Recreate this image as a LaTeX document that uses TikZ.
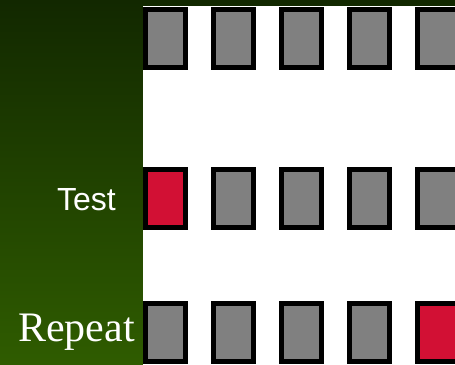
\documentclass[tikz,border=0pt]{standalone}
\usepackage{fontspec}
\setmainfont{Liberation Serif}
\setsansfont{Liberation Sans}
\usetikzlibrary{positioning}

\definecolor{topgreen}{RGB}{18,40,0}
\definecolor{botgreen}{RGB}{47,92,0}
\definecolor{cellgray}{RGB}{128,128,128}
\definecolor{cellred}{RGB}{210,16,52}

\begin{document}
\begin{tikzpicture}[x=1pt, y=1pt,
    cell/.style={rectangle, draw=black, line width=5pt, fill=cellgray, minimum width=40pt, minimum height=58pt, inner sep=0pt},
    hit/.style={cell, fill=cellred},
    lbl/.style={anchor=base east, text=white, inner sep=0pt}]
        \useasboundingbox (0,0) rectangle (455,364);

        % Background panel
        \shade[top color=topgreen, bottom color=botgreen] (0,0) rectangle (455,364);
        \fill[white] (143,-1) rectangle (456,358);

        % Rows of cells (row/height/marked cell)
        \foreach \row/\y/\red in {a/325.8/0, b/165/1, c/31.5/5} {
          \foreach \i in {1,...,5} {
            \ifnum\i=\red \def\s{hit}\else \def\s{cell}\fi
            \node[\s] (\row\i) at ({165.8+68*(\i-1)},\y) {};
          }
        }

        % Row labels
        \node[lbl, font=\sffamily\fontsize{32}{32}\selectfont] (test) at (116,153) {Test};
        \node[lbl, font=\fontsize{42}{42}\selectfont] (repeat) at (135,23) {Repeat};
      \end{tikzpicture}
\end{document}
